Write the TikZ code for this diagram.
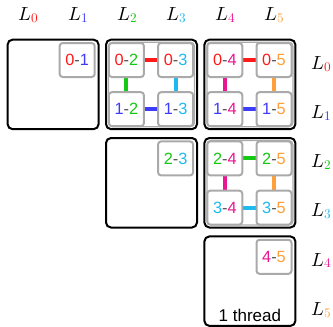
\documentclass[tikz,border=0pt]{standalone}
\usepackage{fontspec}
\newfontfamily\pairfont{Liberation Sans}
\newfontfamily\Lfont{latinmodern-math.otf}
\usetikzlibrary{backgrounds}
\definecolor{c0}{RGB}{255,25,25}
\definecolor{c1}{RGB}{60,60,250}
\definecolor{c2}{RGB}{20,200,20}
\definecolor{c3}{RGB}{30,185,240}
\definecolor{c4}{RGB}{235,20,145}
\definecolor{c5}{RGB}{255,160,60}
\definecolor{boxgray}{RGB}{170,170,170}
\definecolor{dashgray}{RGB}{85,85,85}
\newcommand\pairtxt[2]{{\color{c#1}#1}{\color{dashgray}-}{\color{c#2}#2}}
\newcommand\Llab[1]{{\Lfont 𝐿}\kern0.2pt\raisebox{-1.8pt}{\Lfont\fontsize{13.2}{15}\selectfont\color{c#1}#1}}
\begin{document}
\begin{tikzpicture}[x=1pt,y=-1pt,
 pairbox/.style={draw=boxgray,line width=2pt,fill=white,rounded corners=3pt,minimum width=35pt,minimum height=34pt,inner sep=0pt,font=\pairfont\fontsize{16.3}{18}\selectfont},
 blockbox/.style={draw=black,line width=2pt,rounded corners=5pt,minimum width=91pt,minimum height=89.5pt,inner sep=0pt},
 groupframe/.style={draw=boxgray,line width=1.2pt,rounded corners=4pt,minimum width=86pt,minimum height=84.5pt,inner sep=0pt},
 bar/.style={line width=4pt},
 lab/.style={inner sep=0pt,anchor=base,font=\fontsize{19}{22}\selectfont}]
\useasboundingbox (0,0) rectangle (333,327);
% column labels
\node[lab] (t0) at (28.7,20.8) {\Llab0};
\node[lab] (t1) at (77.9,20.8) {\Llab1};
\node[lab] (t2) at (127.1,20.8) {\Llab2};
\node[lab] (t3) at (176.3,20.8) {\Llab3};
\node[lab] (t4) at (225.5,20.8) {\Llab4};
\node[lab] (t5) at (274.7,20.8) {\Llab5};
% row labels
\node[lab] (r0) at (321,69.3) {\Llab0};
\node[lab] (r1) at (321,118.5) {\Llab1};
\node[lab] (r2) at (321,167.7) {\Llab2};
\node[lab] (r3) at (321,216.9) {\Llab3};
\node[lab] (r4) at (321,266.1) {\Llab4};
\node[lab] (r5) at (321,315.3) {\Llab5};
% blocks
\node[blockbox] (b00) at (53.1,84.4) {};
\node[blockbox] (b01) at (151.5,84.4) {};
\node[blockbox] (b02) at (249.9,84.4) {};
\node[blockbox] (b11) at (151.5,182.75) {};
\node[blockbox] (b12) at (249.9,182.75) {};
\node[blockbox] (b22) at (249.9,281.15) {};
\node[groupframe] (g01) at (b01) {};
\node[groupframe] (g02) at (b02) {};
\node[groupframe] (g12) at (b12) {};
% pairs
\node[pairbox] (p01) at (77.2,60) {\pairtxt01};
\node[pairbox] (p02) at (126.4,60) {\pairtxt02};
\node[pairbox] (p03) at (175.6,60) {\pairtxt03};
\node[pairbox] (p12) at (126.4,109.2) {\pairtxt12};
\node[pairbox] (p13) at (175.6,109.2) {\pairtxt13};
\node[pairbox] (p04) at (224.8,60) {\pairtxt04};
\node[pairbox] (p05) at (274,60) {\pairtxt05};
\node[pairbox] (p14) at (224.8,109.2) {\pairtxt14};
\node[pairbox] (p15) at (274,109.2) {\pairtxt15};
\node[pairbox] (p23) at (175.6,158.4) {\pairtxt23};
\node[pairbox] (p24) at (224.8,158.4) {\pairtxt24};
\node[pairbox] (p25) at (274,158.4) {\pairtxt25};
\node[pairbox] (p34) at (224.8,207.6) {\pairtxt34};
\node[pairbox] (p35) at (274,207.6) {\pairtxt35};
\node[pairbox] (p45) at (274,256.8) {\pairtxt45};
\node[inner sep=0pt,anchor=base,font=\pairfont\fontsize{17}{20}\selectfont] (thr) at (249.9,321) {1 thread};
% bars
\begin{scope}[on background layer]
\draw[bar,c0] (p02.east) -- (p03.west);
\draw[bar,c2] (p02.south) -- (p12.north);
\draw[bar,c3] (p03.south) -- (p13.north);
\draw[bar,c1] (p12.east) -- (p13.west);
\draw[bar,c0] (p04.east) -- (p05.west);
\draw[bar,c4] (p04.south) -- (p14.north);
\draw[bar,c5] (p05.south) -- (p15.north);
\draw[bar,c1] (p14.east) -- (p15.west);
\draw[bar,c2] (p24.east) -- (p25.west);
\draw[bar,c4] (p24.south) -- (p34.north);
\draw[bar,c5] (p25.south) -- (p35.north);
\draw[bar,c3] (p34.east) -- (p35.west);
\end{scope}
\end{tikzpicture}
\end{document}
